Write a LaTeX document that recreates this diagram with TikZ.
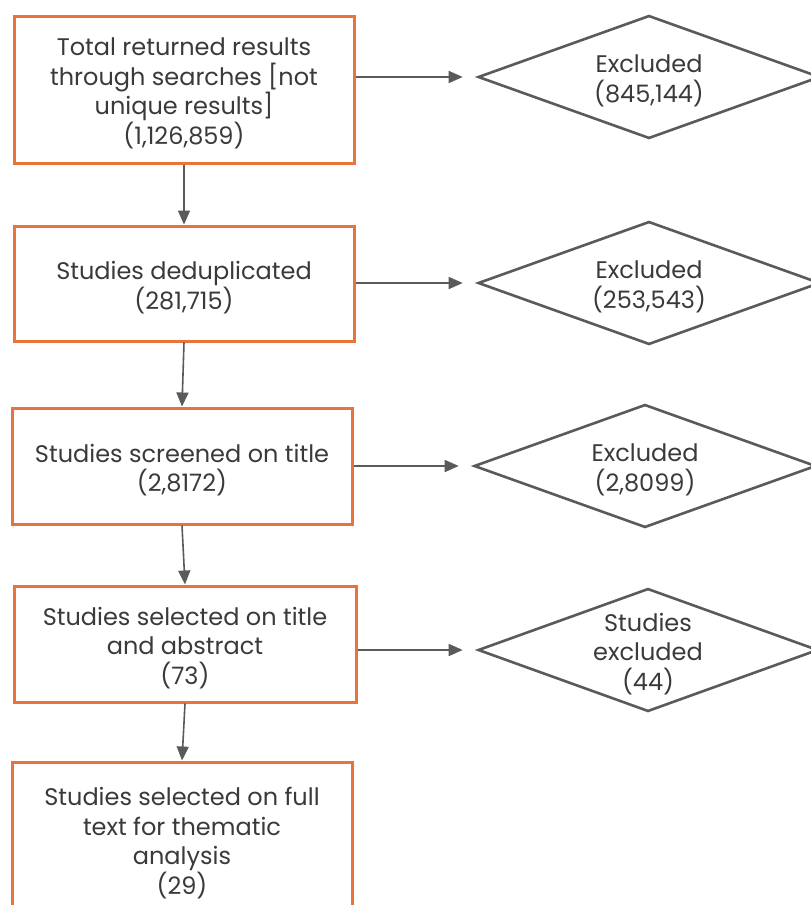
\documentclass[tikz,border=0pt]{standalone}
\usepackage{fontspec}
\setmainfont{Poppins}
\usetikzlibrary{shapes.geometric,arrows.meta,calc}
\definecolor{boxorange}{HTML}{E8743B}
\definecolor{linegray}{HTML}{5A5A5A}
\definecolor{txtgray}{HTML}{3A3A3A}
\begin{document}
\begin{tikzpicture}[x=1pt,y=-1pt,
  stepbox/.style={draw=boxorange,line width=3pt,fill=white,rectangle,inner sep=0pt},
  decide/.style={draw=linegray,line width=2.6pt,diamond,inner sep=0pt,minimum height=123pt},
  lbl/.style={align=center,text=txtgray,inner sep=0pt,font=\fontsize{24}{29.5}\selectfont,yshift=-4pt},
  arr/.style={draw=linegray,line width=1.6pt,-{Triangle[length=14pt,width=12pt]}}]
\clip (0,0) rectangle (811,905);
\fill[white] (0,0) rectangle (811,905);
\node[stepbox,minimum width=340pt,minimum height=147pt] (b1) at (184,89.5) {};
\node[stepbox,minimum width=340pt,minimum height=115pt] (b2) at (184,283.5) {};
\node[stepbox,minimum width=340pt,minimum height=116pt] (b3) at (182,466) {};
\node[stepbox,minimum width=342pt,minimum height=116pt] (b4) at (185,644) {};
\node[stepbox,minimum width=340pt,minimum height=154pt] (b5) at (182,839) {};
\node[decide,minimum width=342pt] (d1) at (649,77) {};
\node[decide,minimum width=342pt] (d2) at (649,283) {};
\node[decide,minimum width=342pt] (d3) at (645,466) {};
\node[decide,minimum width=340pt] (d4) at (648,650) {};
\node[lbl] (t1) at (b1.center) {Total returned results\\through searches [not\\unique results]\\(1,126,859)};
\node[lbl] (t2) at (b2.center) {Studies deduplicated\\(281,715)};
\node[lbl] (t3) at (b3.center) {Studies screened on title\\(2,8172)};
\node[lbl] (t4) at (b4.center) {Studies selected on title\\and abstract\\(73)};
\node[lbl] (t5) at (b5.center) {Studies selected on full\\text for thematic\\analysis\\(29)};
\node[lbl] (e1) at (d1.center) {Excluded\\(845,144)};
\node[lbl] (e2) at (d2.center) {Excluded\\(253,543)};
\node[lbl] (e3) at (d3.center) {Excluded\\(2,8099)};
\node[lbl] (e4) at (d4.center) {Studies\\excluded\\(44)};
\draw[arr] (b1.south) -- (b2.north);
\draw[arr] (b2.south) -- (b3.north);
\draw[arr] (b3.south) -- (b4.north);
\draw[arr] (b4.south) -- (b5.north);
\draw[arr] (b1.east |- d1.west) -- ($(d1.west)+(-14,0)$);
\draw[arr] (b2.east |- d2.west) -- ($(d2.west)+(-14,0)$);
\draw[arr] (b3.east |- d3.west) -- ($(d3.west)+(-14,0)$);
\draw[arr] (b4.east |- d4.west) -- ($(d4.west)+(-14,0)$);
\end{tikzpicture}
\end{document}
